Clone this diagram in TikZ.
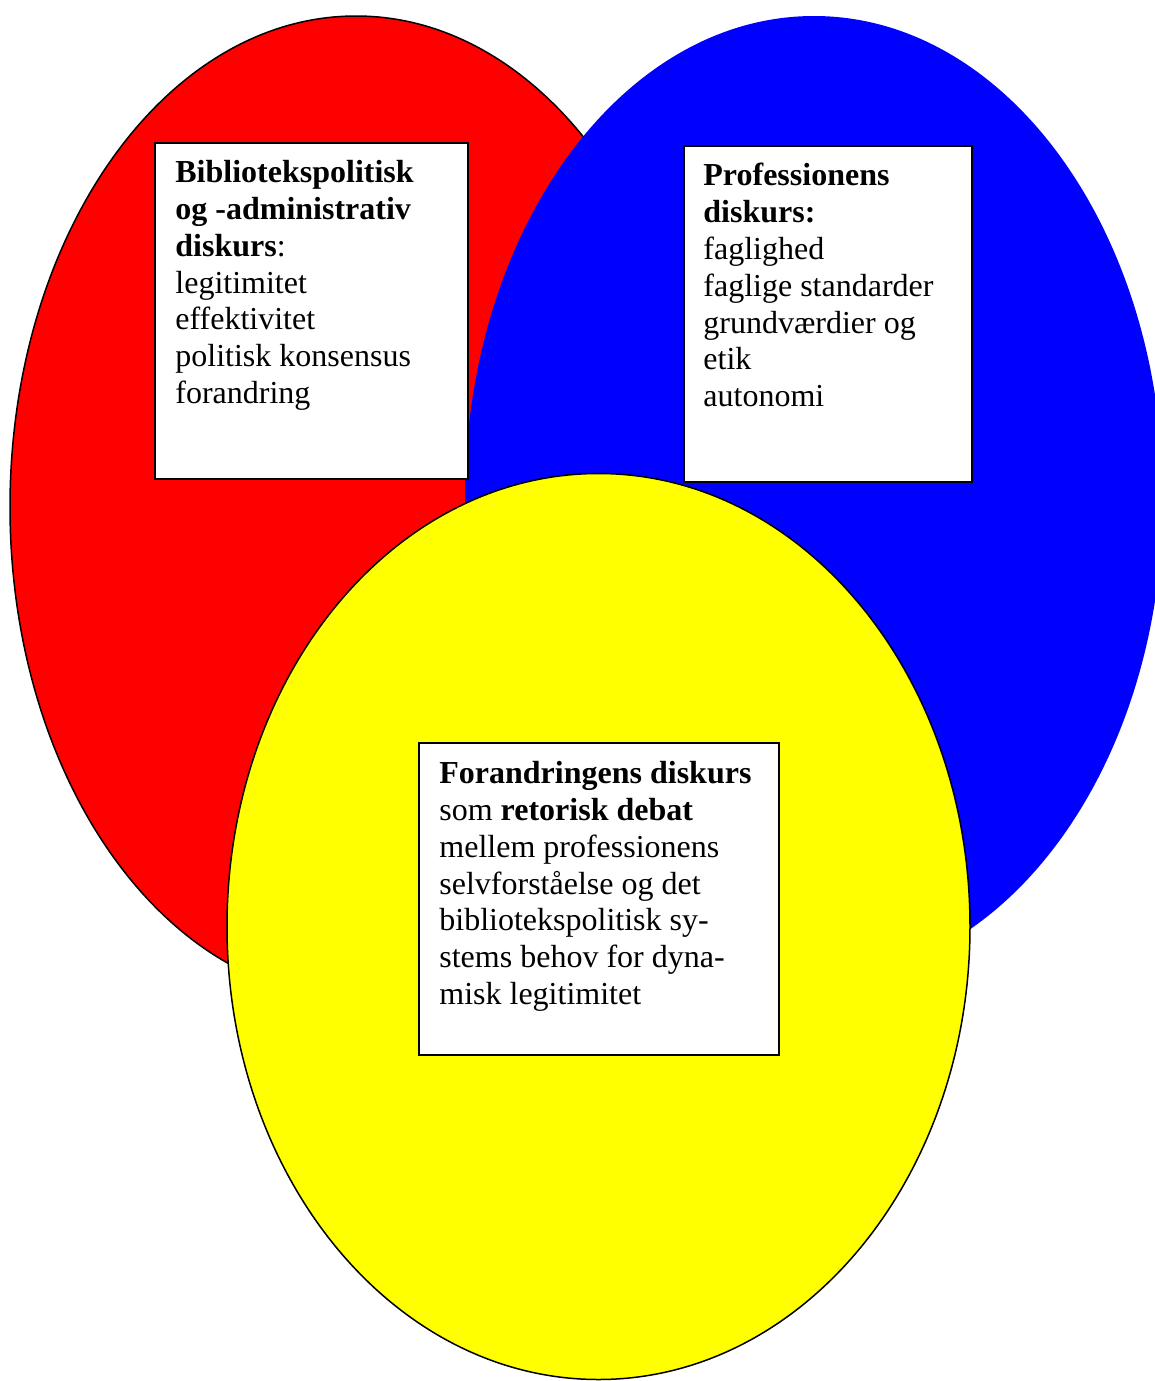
\documentclass[tikz,border=0pt]{standalone}
\usepackage{fontspec}
\setmainfont{Liberation Serif}
\usepackage{tikz}
\usetikzlibrary{positioning}
\definecolor{ringred}{RGB}{255,0,0}
\definecolor{ringblue}{RGB}{0,0,255}
\definecolor{ringyellow}{RGB}{255,255,0}

\begin{document}
\begin{tikzpicture}[x=0.5pt, y=-0.5pt,
		box/.style={draw=black, line width=0.8pt, fill=white, inner sep=0pt, anchor=north west},
		txt/.style={inner sep=0pt, anchor=north west, align=left, font=\fontsize{16}{18.4}\selectfont}]
	\useasboundingbox (0,0) rectangle (1155,1381);
	% circles
	\filldraw[fill=ringred, draw=black, line width=0.75pt] (356,507) ellipse [x radius=346, y radius=491];
	\fill[ringblue] (814,498) ellipse [x radius=349, y radius=482];
	\filldraw[fill=ringyellow, draw=black, line width=0.75pt] (598.5,926.5) ellipse [x radius=371.5, y radius=453];
	% boxes
	\node[box, minimum width=156.5pt, minimum height=168pt] (politik) at (154,142) {};
	\node[box, minimum width=144pt, minimum height=168pt] (profession) at (683,145) {};
	\node[box, minimum width=180pt, minimum height=156pt] (forandring) at (418,742) {};
	% labels
	\node[txt] (politiktxt) at (175,160) {\textbf{Bibliotekspolitisk}\\ \textbf{og -administrativ}\\ \textbf{diskurs}:\\ legitimitet\\ effektivitet\\ politisk konsensus\\ forandring};
	\node[txt] (professiontxt) at (703,163) {\textbf{Professionens}\\ \textbf{diskurs:}\\ faglighed\\ faglige standarder\\ grundværdier og\\ etik\\ autonomi};
	\node[txt] (forandringtxt) at (439,761) {\textbf{Forandringens diskurs}\\ som \textbf{retorisk debat}\\ mellem professionens\\ selvforståelse og det\\ bibliotekspolitisk sy-\\ stems behov for dyna-\\ misk legitimitet};
\end{tikzpicture}
\end{document}
